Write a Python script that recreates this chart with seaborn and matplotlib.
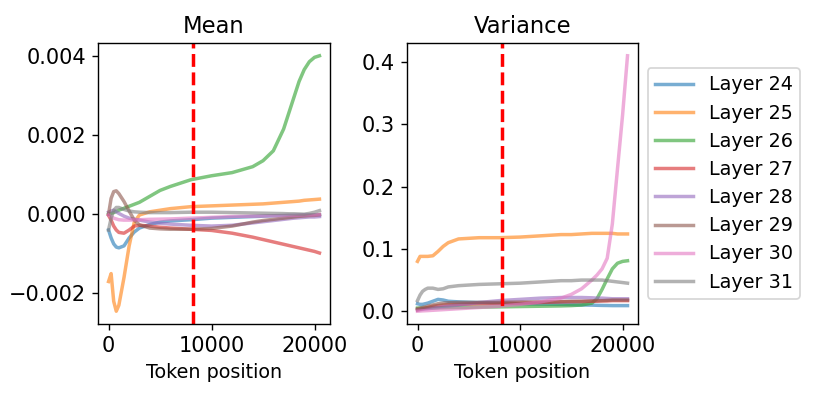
import numpy as np
import pandas as pd
import matplotlib
matplotlib.use('Agg')
import matplotlib.pyplot as plt
import seaborn as sns

TOKENS = [0, 250, 500, 750, 1000, 1500, 2000, 2500, 3000, 4000, 5000, 6000,
          8000, 10000, 12000, 14000, 15000, 16000, 17000, 17500, 18000,
          18500, 19000, 19500, 20000, 20480]

LAYERS = ['Layer 24', 'Layer 25', 'Layer 26', 'Layer 27',
          'Layer 28', 'Layer 29', 'Layer 30', 'Layer 31']

CUTOFF = 8192

# mean, in units of 1e-4
MEAN_24 = [-4, -6, -7.5, -8.3, -8.5, -8, -6, -4.5, -3.5, -2.6, -2, -1.7, -1.4, -1,
           -0.8, -0.6, -0.5, -0.4, -0.35, -0.3, -0.3, -0.25, -0.2, -0.2, -0.2, -0.2]
MEAN_25 = [-17, -15, -22, -24.5, -23, -16, -8, -2, -0.2, 0.6, 1, 1.4, 1.9, 2.1,
           2.3, 2.5, 2.6, 2.8, 3.0, 3.1, 3.2, 3.3, 3.5, 3.6, 3.7, 3.8]
MEAN_26 = [0, 0.2, 0.4, 0.7, 1, 1.5, 2, 2.5, 3, 4.5, 6, 7, 8.7, 9.7, 10.5, 12,
           13.5, 16, 21.5, 25.5, 29.5, 33.5, 36.5, 38.5, 39.6, 40]
MEAN_27 = [-0.3, -1.5, -3, -4, -4.6, -4.8, -4, -3, -2.8, -3, -3.3, -3.5, -3.8,
           -4.1, -4.8, -5.8, -6.4, -7, -7.6, -7.9, -8.2, -8.5, -8.8, -9.1, -9.4, -9.8]
MEAN_28 = [0.5, 0.8, 1, 0.6, 0.2, -0.5, -1, -1.3, -1.5, -2, -2.3, -2.5, -2.8, -3,
           -2.8, -2.2, -1.9, -1.6, -1.3, -1.15, -1, -0.9, -0.8, -0.7, -0.7, -0.6]
MEAN_29 = [0, 4, 5.7, 5.9, 5.2, 3.2, 0.8, -1.5, -2.7, -3.5, -3.7, -3.8, -3.8, -3.6,
           -3, -2, -1.6, -1.3, -1, -0.85, -0.7, -0.55, -0.45, -0.35, -0.3, -0.1]
MEAN_30 = [-0.2, -0.6, -1, -1.2, -1.4, -1.5, -1.5, -1.45, -1.4, -1.3, -1.25, -1.2,
           -1, -0.8, -0.6, -0.5, -0.45, -0.4, -0.35, -0.3, -0.3, -0.25, -0.2, -0.2, -0.2, -0.1]
MEAN_31 = [-4, -1, 1, 1.7, 1.7, 1.2, 0.8, 0.6, 0.5, 0.4, 0.4, 0.4, 0.5, 0.5, 0.4,
           0.3, 0.25, 0.2, 0.15, 0.1, 0.1, 0.05, 0, 0.2, 0.5, 0.9]

VAR_24 = [0.012, 0.011, 0.011, 0.012, 0.013, 0.016, 0.019, 0.018, 0.016, 0.015,
          0.0145, 0.014, 0.013, 0.012, 0.0115, 0.011, 0.0105, 0.010, 0.0098,
          0.0095, 0.0093, 0.0092, 0.009, 0.009, 0.009, 0.009]
VAR_25 = [0.080, 0.088, 0.088, 0.088, 0.088, 0.089, 0.096, 0.104, 0.110, 0.116,
          0.117, 0.118, 0.118, 0.119, 0.121, 0.123, 0.123, 0.124, 0.125, 0.125,
          0.125, 0.125, 0.125, 0.124, 0.124, 0.124]
VAR_26 = [0.005, 0.005, 0.005, 0.005, 0.005, 0.0052, 0.0054, 0.0056, 0.0058, 0.006,
          0.0063, 0.0066, 0.007, 0.0075, 0.008, 0.0085, 0.009, 0.010, 0.013, 0.020,
          0.035, 0.052, 0.068, 0.077, 0.080, 0.081]
VAR_27 = [0.002, 0.003, 0.004, 0.005, 0.006, 0.008, 0.009, 0.010, 0.0105, 0.011,
          0.0115, 0.012, 0.0125, 0.013, 0.014, 0.015, 0.0152, 0.0155, 0.016, 0.016,
          0.0165, 0.0165, 0.017, 0.017, 0.017, 0.017]
VAR_28 = [0.002, 0.0025, 0.003, 0.0035, 0.004, 0.005, 0.006, 0.007, 0.008, 0.010,
          0.012, 0.014, 0.017, 0.019, 0.021, 0.022, 0.022, 0.022, 0.0215, 0.021,
          0.021, 0.0205, 0.020, 0.020, 0.020, 0.020]
VAR_29 = [0.004, 0.005, 0.006, 0.007, 0.008, 0.010, 0.012, 0.013, 0.0135, 0.014,
          0.014, 0.014, 0.0143, 0.0146, 0.015, 0.0155, 0.016, 0.016, 0.0165, 0.017,
          0.017, 0.0175, 0.018, 0.018, 0.018, 0.018]
VAR_30 = [0.000, 0.0003, 0.0006, 0.0008, 0.001, 0.0015, 0.002, 0.0025, 0.003, 0.004,
          0.005, 0.006, 0.008, 0.011, 0.015, 0.021, 0.027, 0.036, 0.050, 0.058,
          0.068, 0.085, 0.140, 0.228, 0.315, 0.410]
VAR_31 = [0.017, 0.026, 0.032, 0.035, 0.037, 0.037, 0.035, 0.036, 0.039, 0.041,
          0.042, 0.043, 0.044, 0.045, 0.047, 0.049, 0.049, 0.050, 0.050, 0.050,
          0.050, 0.049, 0.048, 0.047, 0.046, 0.045]

MEANS = [MEAN_24, MEAN_25, MEAN_26, MEAN_27, MEAN_28, MEAN_29, MEAN_30, MEAN_31]
VARS = [VAR_24, VAR_25, VAR_26, VAR_27, VAR_28, VAR_29, VAR_30, VAR_31]

rows = []
for layer, m, v in zip(LAYERS, MEANS, VARS):
    for t, mv, vv in zip(TOKENS, m, v):
        rows.append({'layer': layer, 'token': t, 'mean': mv * 1e-4, 'var': vv})
df = pd.DataFrame(rows)

palette = dict(zip(LAYERS, sns.color_palette('tab10', 8)))

plt.rcParams.update({
    'xtick.labelsize': 12,
    'ytick.labelsize': 12,
    'axes.labelsize': 11,
    'axes.titlesize': 13,
    'legend.fontsize': 11,
})

DPI = 125
fig = plt.figure(figsize=(814 / DPI, 397 / DPI), dpi=DPI)
ax1 = fig.add_axes([0.1204, 0.1839, 0.285, 0.7078])
ax2 = fig.add_axes([0.500, 0.1839, 0.2838, 0.7078])

# ── Mean ────────────────────────────────────────────
sns.lineplot(data=df, x='token', y='mean', hue='layer', hue_order=LAYERS,
             palette=palette, alpha=0.6, linewidth=2, legend=False, ax=ax1)
ax1.axvline(CUTOFF, color='red', linestyle='--', linewidth=2)
ax1.set_title('Mean')
ax1.set_xlabel('Token position')
ax1.set_ylabel('')
ax1.set_yticks([-0.002, 0.0, 0.002, 0.004])

# ── Variance ────────────────────────────────────────
sns.lineplot(data=df, x='token', y='var', hue='layer', hue_order=LAYERS,
             palette=palette, alpha=0.6, linewidth=2, ax=ax2)
ax2.axvline(CUTOFF, color='red', linestyle='--', linewidth=2)
ax2.set_title('Variance')
ax2.set_xlabel('Token position')
ax2.set_ylabel('')

handles, labels = ax2.get_legend_handles_labels()
ax2.legend(handles, labels, loc='center left', bbox_to_anchor=(1.0, 0.5),
           labelspacing=0.48)

fig.savefig('out.png', dpi=DPI)
